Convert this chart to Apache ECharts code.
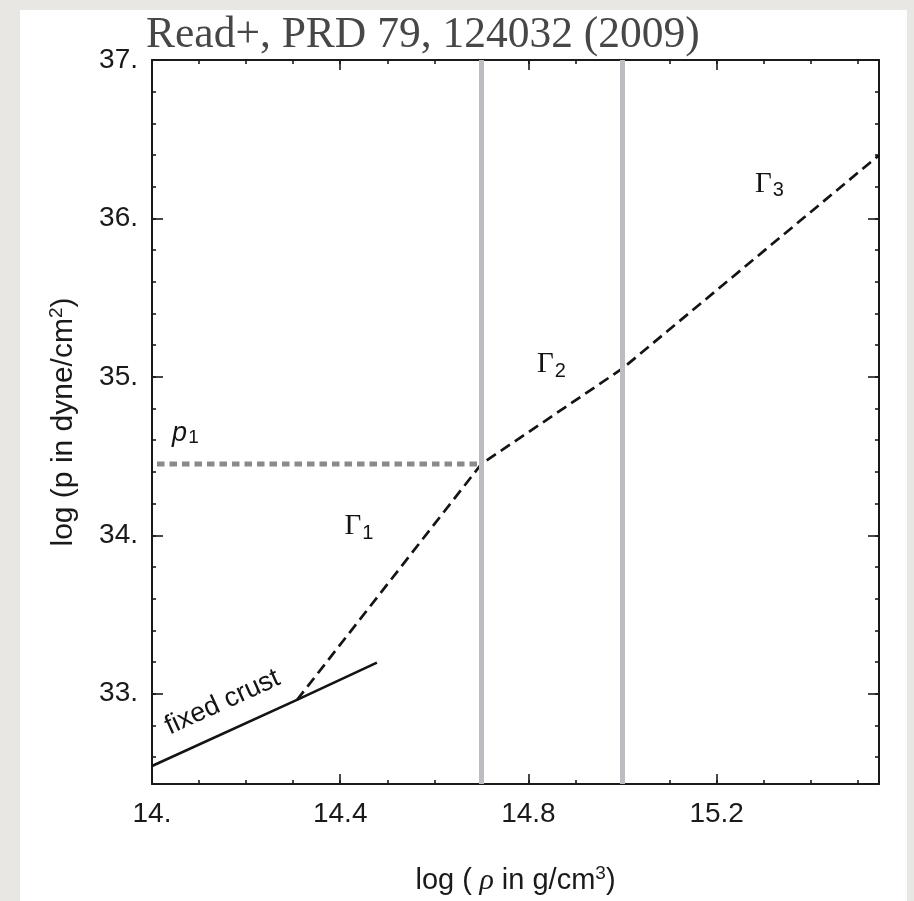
<!DOCTYPE html>
<html>
<head>
<meta charset="utf-8">
<script src="https://cdn.jsdelivr.net/npm/echarts@6/dist/echarts.min.js"></script>
<style>
  html, body { margin: 0; padding: 0; background: #e9e7e3; }
  #chart { width: 914px; height: 901px; }
</style>
</head>
<body>
<div id="chart"></div>
<script>
// ---- data ----
const xRange = [14.0, 15.545];
const yRange = [32.43, 37.0];

const xTickValues = [14.0, 14.4, 14.8, 15.2];
const xTickLabels = ['14.', '14.4', '14.8', '15.2'];
const yTickValues = [33, 34, 35, 36, 37];
const yTickLabels = ['33.', '34.', '35.', '36.', '37.'];

// fixed crust (solid line)
const crustRho = [14.0, 14.308, 14.478];
const crustP   = [32.543, 32.961, 33.196];

// piecewise polytrope (dashed)
const polyRho = [14.308, 14.7, 15.0, 15.545];
const polyP   = [32.96, 34.45, 35.053, 36.399];

// dividing densities (grey vertical lines)
const dividingRho = [14.7, 15.0];

// p1 level (grey dotted horizontal)
const p1Rho = [14.0, 14.7];
const p1Value = 34.45;

// annotations (data coordinates)
const gammaLabelRho = [14.44, 14.849, 15.312];
const gammaLabelP   = [34.05, 35.074, 36.213];
const gammaSubs     = ['1', '2', '3'];
const p1LabelRho = 14.071, p1LabelP = 34.643;
const crustLabelRho = 14.15, crustLabelP = 32.945;

// ---- build ----
const pair = (xs, ys) => xs.map((x, i) => [x, ys[i]]);
const fmtFrom = (vals, labels) => v => {
  for (let i = 0; i < vals.length; i++) if (Math.abs(v - vals[i]) < 1e-6) return labels[i];
  return '';
};

const sans = 'Liberation Sans, Arial, Helvetica, sans-serif';
const serif = 'Liberation Serif, Times New Roman, serif';
const axisColor = '#1a1a1a';
const labelColor = '#1a1a1a';
const ink = '#141414';

function xAxisDef(pos, major, showLabel) {
  return {
    type: 'value', position: pos, min: xRange[0], max: xRange[1],
    interval: major ? 0.4 : 0.1,
    axisLine: { show: major, onZero: false, lineStyle: { color: axisColor, width: 2 } },
    axisTick: { show: true, inside: true, length: major ? 10 : 4, lineStyle: { color: axisColor, width: 1.6 } },
    axisLabel: showLabel ? {
      show: true, margin: 16, fontSize: 28, fontFamily: sans, color: labelColor,
      showMaxLabel: false, formatter: fmtFrom(xTickValues, xTickLabels)
    } : { show: false },
    splitLine: { show: false }
  };
}
function yAxisDef(pos, major, showLabel) {
  const iv = major ? 1 : 0.2;
  return {
    type: 'value', position: pos, min: yRange[0], max: yRange[1],
    minInterval: iv, maxInterval: iv, splitNumber: major ? 5 : 23,
    axisLine: { show: major, onZero: false, lineStyle: { color: axisColor, width: 2 } },
    axisTick: { show: true, inside: true, length: major ? 11 : 4, lineStyle: { color: axisColor, width: 1.6 } },
    axisLabel: showLabel ? {
      show: true, margin: 14, fontSize: 28, fontFamily: sans, color: labelColor,
      showMinLabel: false, formatter: fmtFrom(yTickValues, yTickLabels)
    } : { show: false },
    splitLine: { show: false }
  };
}

const xMain = xAxisDef('bottom', true, true);
xMain.name = '{t|log (}{r| \u03c1}{t| in g/cm}{s|3}{t|)}';
xMain.nameLocation = 'middle';
xMain.nameGap = 80;
xMain.nameTextStyle = {
  color: labelColor,
  rich: {
    t: { fontSize: 29, fontFamily: sans, color: labelColor, lineHeight: 34 },
    r: { fontSize: 30, fontFamily: serif, fontStyle: 'italic', color: labelColor, lineHeight: 34 },
    s: { fontSize: 19, fontFamily: sans, color: labelColor, lineHeight: 18, verticalAlign: 'top' }
  }
};
const yMain = yAxisDef('left', true, true);
yMain.name = '{t|log (p in dyne/cm}{s|2}{t|)}';
yMain.nameLocation = 'middle';
yMain.nameGap = 71;
yMain.nameTextStyle = {
  color: labelColor,
  rich: {
    t: { fontSize: 30, fontFamily: sans, color: labelColor, lineHeight: 34 },
    s: { fontSize: 19, fontFamily: sans, color: labelColor, lineHeight: 18, verticalAlign: 'top' }
  }
};

const gammaRich = {
  g: { fontSize: 29, fontFamily: serif, color: ink, lineHeight: 30, verticalAlign: 'top', textBorderWidth: 0 },
  s: { fontSize: 20, fontFamily: sans, color: ink, lineHeight: 20, verticalAlign: 'top', padding: [11, 0, 0, 1], textBorderWidth: 0 }
};

const labelScatter = { type: 'scatter', xAxisIndex: 0, yAxisIndex: 0, z: 4, symbolSize: 0, silent: true,
  itemStyle: { opacity: 1 }, emphasis: { disabled: true } };

const option = {
  backgroundColor: '#e9e7e3',
  animation: false,
  title: {
    text: 'Read+, PRD 79, 124032 (2009)',
    left: 146, top: 14, padding: 0,
    textStyle: { fontFamily: serif, fontSize: 43.5, fontWeight: 'normal', color: '#474747' }
  },
  graphic: [
    { type: 'rect', z: -100, shape: { x: 20, y: 10, width: 887, height: 900 }, style: { fill: '#ffffff' } }
  ],
  grid: { left: 152, right: 35, top: 60, bottom: 116, containLabel: false },
  xAxis: [xMain, xAxisDef('bottom', false, false), xAxisDef('top', true, false), xAxisDef('top', false, false)],
  yAxis: [yMain, yAxisDef('left', false, false), yAxisDef('right', true, false), yAxisDef('right', false, false)],
  series: [
    {
      type: 'line', name: 'dividers', data: [], xAxisIndex: 0, yAxisIndex: 0, z: 1,
      markLine: {
        silent: true, symbol: ['none', 'none'], label: { show: false },
        lineStyle: { color: '#bdbdc1', width: 5, type: 'solid' },
        data: dividingRho.map(v => ({ xAxis: v }))
      }
    },
    {
      type: 'line', name: 'p1', xAxisIndex: 0, yAxisIndex: 0, z: 2,
      data: p1Rho.map(x => [x, p1Value]), symbol: 'none',
      lineStyle: { color: '#8a8a8a', width: 5, type: [7.5, 5], dashOffset: 7.5, cap: 'butt' }
    },
    {
      type: 'line', name: 'crust', xAxisIndex: 0, yAxisIndex: 0, z: 3,
      data: pair(crustRho, crustP), symbol: 'none',
      lineStyle: { color: ink, width: 2.7, type: 'solid' }
    },
    {
      type: 'line', name: 'poly', xAxisIndex: 0, yAxisIndex: 0, z: 3,
      data: pair(polyRho, polyP), symbol: 'none',
      lineStyle: { color: ink, width: 2.7, type: [11, 6] }
    },
    Object.assign({}, labelScatter, {
      name: 'gammaLabels',
      data: gammaLabelRho.map((x, i) => ({ value: [x, gammaLabelP[i]], sub: gammaSubs[i] })),
      label: {
        show: true, position: 'inside', align: 'center', verticalAlign: 'middle',
        textBorderWidth: 0, color: ink,
        formatter: p => '{g|\u0393}{s|' + p.data.sub + '}',
        rich: gammaRich
      }
    }),
    Object.assign({}, labelScatter, {
      name: 'p1Label',
      data: [[p1LabelRho, p1LabelP]],
      label: {
        show: true, position: 'inside', align: 'center', verticalAlign: 'middle',
        textBorderWidth: 0, color: ink,
        formatter: '{p|p}{s|1}',
        rich: {
          p: { fontSize: 27, fontFamily: sans, fontStyle: 'italic', color: ink, lineHeight: 26, verticalAlign: 'top', textBorderWidth: 0 },
          s: { fontSize: 19, fontFamily: sans, color: ink, lineHeight: 18, verticalAlign: 'top', padding: [8, 0, 0, 1], textBorderWidth: 0 }
        }
      }
    }),
    Object.assign({}, labelScatter, {
      name: 'crustLabel',
      data: [[crustLabelRho, crustLabelP]],
      label: {
        show: true, position: 'inside', align: 'center', verticalAlign: 'middle',
        rotate: 24.5, formatter: 'fixed crust', textBorderWidth: 0,
        fontSize: 27, fontFamily: sans, color: ink
      }
    })
  ]
};

const chart = echarts.init(document.getElementById('chart'), null, { renderer: 'canvas' });
chart.setOption(option);
</script>
</body>
</html>
